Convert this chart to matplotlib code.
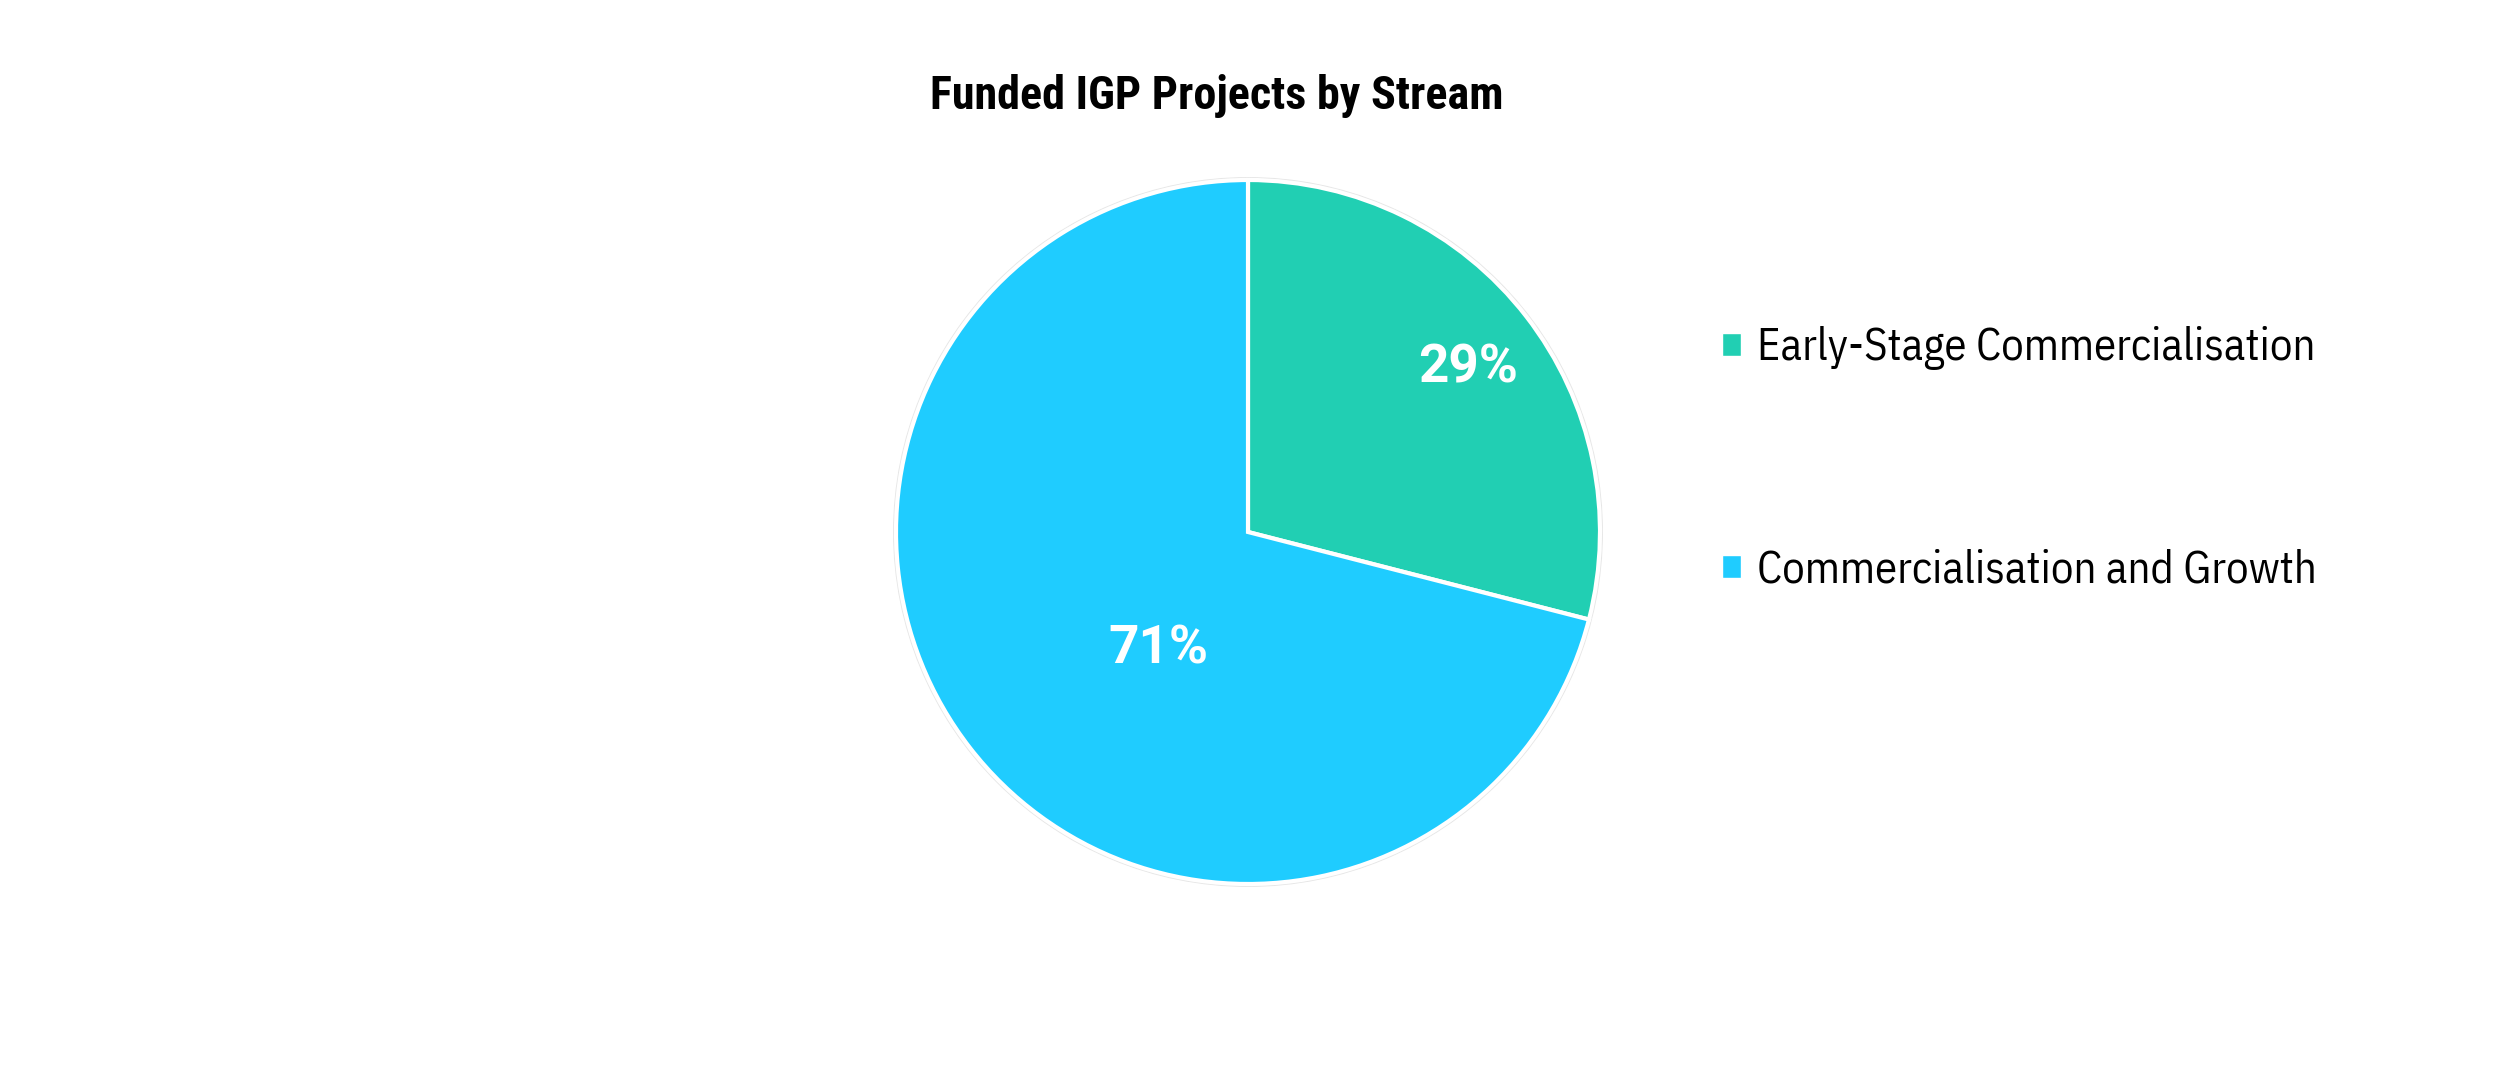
import matplotlib
matplotlib.use("Agg")
import matplotlib.pyplot as plt
from matplotlib.patches import Patch, Circle

categories = ["Early-Stage Commercialisation", "Commercialisation and Growth"]
values = [29, 71]
colors = ["#21CFB3", "#1FCCFF"]
title = "Funded IGP Projects by Stream"

W, H = 2500, 1075
fig = plt.figure(figsize=(W / 100, H / 100), dpi=100)
renderer = fig.canvas.get_renderer()


def fit_width(text_artist, target_px):
    w = text_artist.get_window_extent(renderer).width
    text_artist.set_fontsize(text_artist.get_fontsize() * target_px / w)


cx, cy, r = 1248, 532, 352
ax = fig.add_axes([(cx - r - 6) / W, (H - cy - r - 6) / H, (2 * r + 12) / W, (2 * r + 12) / H])

wedges, texts, autotexts = ax.pie(
    values, colors=colors, startangle=90, counterclock=False,
    autopct=lambda p: f"{p:.0f}%", pctdistance=0.6,
    wedgeprops=dict(edgecolor="white", linewidth=3),
    textprops=dict(color="white", fontsize=38, fontweight="bold", family="Roboto"),
)
ax.add_patch(Circle((0, 0), 1.006, fill=False, edgecolor="#E6E6E6", linewidth=1.2, zorder=0))
label_pos = [(0.624, 0.465), (-0.256, -0.333)]
for t, (x, y) in zip(autotexts, label_pos):
    t.set_position((x, y))
    t.set_ha("center"); t.set_va("center")
lim = (r + 6) / r
ax.set_xlim(-lim, lim); ax.set_ylim(-lim, lim)
ax.set_aspect("equal")
ax.axis("off")
fit_width(autotexts[0], 100)
autotexts[1].set_fontsize(autotexts[0].get_fontsize())

t = fig.text(1217 / W, 1 - 96 / H, title, ha="center", va="center",
             fontsize=30, fontweight="bold", family="Roboto Condensed")
fit_width(t, 574)

probe = fig.text(0, 0, categories[0], family="IBM Plex Sans Condensed", fontsize=28)
fit_width(probe, 558)
leg_size = probe.get_fontsize()
probe.remove()

handles = [Patch(facecolor=c, edgecolor="white", label=l) for c, l in zip(colors, categories)]
fs_px = leg_size * 100 / 72
leg = fig.legend(handles=handles, loc="center left",
                 bbox_to_anchor=(1722 / W, 1 - 459 / H), frameon=False,
                 prop=dict(family="IBM Plex Sans Condensed", size=leg_size),
                 handlelength=19 / fs_px, handleheight=19 / fs_px,
                 handletextpad=16 / fs_px,
                 labelspacing=(223 - fs_px) / fs_px, borderpad=0, borderaxespad=0)

fig.savefig("out.png", dpi=100, facecolor="white")
